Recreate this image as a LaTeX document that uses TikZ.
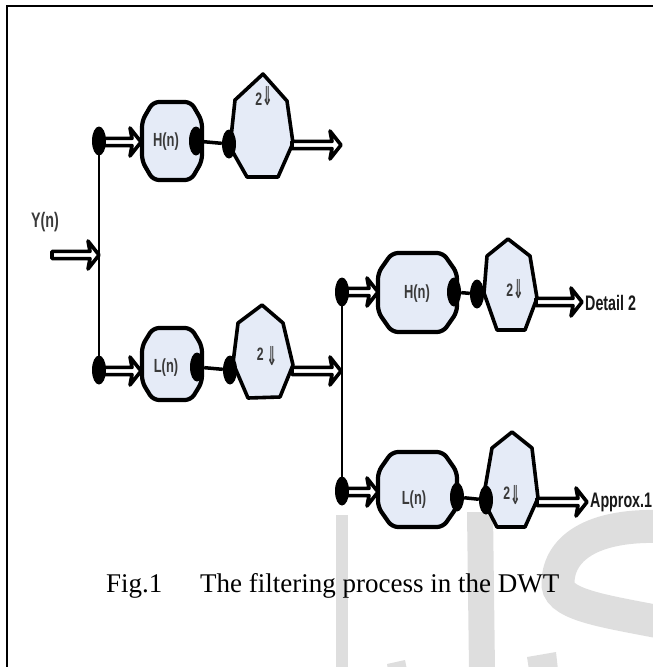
\documentclass[tikz,border=0pt]{standalone}
\usepackage{graphicx}
\usepackage{fontspec}
\setmainfont{Liberation Serif}
\newfontfamily\labfont{Liberation Sans}
\newfontfamily\symfont{DejaVu Sans}
\usetikzlibrary{arrows.meta,shapes.geometric,calc}
\definecolor{boxfill}{RGB}{229,235,247}
\definecolor{wm}{RGB}{222,222,222}
\definecolor{labc}{RGB}{58,58,58}
\definecolor{outc}{RGB}{25,25,25}
\newcommand\nar[1]{\scalebox{0.68}[1]{#1}}
\newcommand\dn{\scalebox{0.7}[1.45]{\symfont\char"21D3}}
\newcommand\filtpath[6]{%
  \draw[filt] (#1+#5,#2) -- (#3-#5,#2) -- (#3,#2+#6) -- (#3,#4-#6) -- (#3-#5,#4) -- (#1+#5,#4) -- (#1,#4-#6) -- (#1,#2+#6) -- cycle;}
% hollow block arrow from #1 to #2 (horizontal, at the height of #2)
\newcommand\harrow[2]{%
  \draw[harr] let \p1=#1, \p2=#2 in
    (\x1,\y2+3.6pt) -- (\x2-9pt,\y2+3.6pt) -- (\x2-11pt,\y2+14pt) -- (\x2,\y2)
    -- (\x2-11pt,\y2-14pt) -- (\x2-9pt,\y2-3.6pt) -- (\x1,\y2-3.6pt) -- cycle;}
\pgfdeclarelayer{wmark}
\pgfdeclarelayer{shapes}
\pgfdeclarelayer{conn}
\pgfsetlayers{wmark,shapes,conn,main}
\begin{document}
\begin{tikzpicture}[x=1pt,y=-1pt,
  dot/.style={ellipse, fill=black, minimum width=14pt, minimum height=29pt, inner sep=0pt},
  harr/.style={draw=black, fill=white, line width=3.6pt, line join=round},
  link/.style={line width=3.5pt},
  wire/.style={line width=2.6pt},
  filt/.style={draw, line width=4.2pt, fill=boxfill, rounded corners=6pt},
  hept/.style={draw, line width=3.6pt, fill=boxfill, line join=round},
  lbl/.style={font=\labfont\bfseries\fontsize{19}{19}\selectfont, text=labc, inner sep=0pt},
  dlbl/.style={font=\labfont\bfseries\fontsize{18}{18}\selectfont, text=labc, inner sep=0pt},
  olbl/.style={font=\labfont\bfseries\fontsize{21}{21}\selectfont, text=outc, inner sep=0pt, anchor=west},
  captext/.style={font=\fontsize{27}{27}\selectfont, anchor=base west, inner sep=0pt}
]
\useasboundingbox (0,0) rectangle (653,667);

% ---------- watermark ----------
\begin{pgfonlayer}{wmark}
\begin{scope}
\clip (0,0) rectangle (653,667);
\fill[wm] (336,515) rectangle (348,670);
\fill[wm] (467,512) -- (493,512) -- (495,670) -- (469,670) -- cycle;
\fill[wm] (387,664) -- (405,660) -- (407,670) -- (388,670) -- cycle;
\fill[wm] (527,657) -- (556,652) -- (558,670) -- (529,670) -- cycle;
\draw[wm, line width=33pt] (670,527) .. controls (590,522) and (557,550) .. (558,585) .. controls (560,606) and (610,612) .. (670,624);
\end{scope}
\end{pgfonlayer}

% ---------- frame ----------
\draw[line width=2.2pt] (7,667) -- (7,5.8) -- (653,5.8);

% ---------- dots (named nodes) ----------
\node[dot] (d1) at (99,141) {};
\node[dot] (d2) at (196,141) {};
\node[dot] (d3) at (229,144) {};
\node[dot] (d4) at (99,370) {};
\node[dot] (d5) at (197,367) {};
\node[dot] (d6) at (230,370) {};
\node[dot] (d7) at (342,292) {};
\node[dot] (d8) at (454,292) {};
\node[dot] (d9) at (477,294) {};
\node[dot] (d10) at (342,491) {};
\node[dot] (d11) at (457,497) {};
\node[dot] (d12) at (486,500) {};

% ---------- coordinates ----------
\coordinate (yin) at (52,255);
\coordinate (yj) at (99,255);
\coordinate (hAin) at (141,142);
\coordinate (sAout) at (292,145);
\coordinate (oA) at (341,145);
\coordinate (lAin) at (141,371);
\coordinate (sBout) at (292,371);
\coordinate (oB) at (341,371);
\coordinate (hBin) at (378,292);
\coordinate (sCout) at (536,302);
\coordinate (oC) at (582,302);
\coordinate (lBin) at (378,492);
\coordinate (sDout) at (537,502);
\coordinate (oD) at (587,502);

% ---------- shapes ----------
\begin{pgfonlayer}{shapes}
\filtpath{142}{102}{202}{180}{11}{19}
\filtpath{142}{328}{202}{400}{11}{18}
\filtpath{378}{253}{457}{332}{14}{20}
\filtpath{378}{452}{457}{527}{14}{20}
\draw[hept] (263,74) -- (287,101) -- (293,143) -- (278,177) -- (247,177) -- (230,147) -- (235,100) -- cycle;
\draw[hept] (262,305) -- (283,323) -- (293,365) -- (280,397) -- (248,398) -- (233,363) -- (238,323) -- cycle;
\draw[hept] (508,239) -- (530,256) -- (537,298) -- (525,330) -- (497,330) -- (484,293) -- (487,256) -- cycle;
\draw[hept] (512,432) -- (532,448) -- (538,498) -- (525,527) -- (497,527) -- (483,500) -- (492,448) -- cycle;
\end{pgfonlayer}

% ---------- connectors ----------
\begin{pgfonlayer}{conn}
\draw[wire] (d1.center) -- (d4.center);
\draw[wire] (d7.center) -- (d10.center);
\harrow{(yin)}{(yj)}
\harrow{(d1.center)}{(hAin)}
\harrow{(d4.center)}{(lAin)}
\harrow{(sAout)}{(oA)}
\harrow{(sBout)}{(oB)}
\harrow{(d7.center)}{(hBin)}
\harrow{(d10.center)}{(lBin)}
\harrow{(sCout)}{(oC)}
\harrow{(sDout)}{(oD)}
\draw[link] (d2) -- (d3);
\draw[link] (d5) -- (d6);
\draw[link] (d8) -- (d9);
\draw[link] (d11) -- (d12);
\end{pgfonlayer}

% ---------- labels ----------
\node[lbl, font=\labfont\bfseries\fontsize{21}{21}\selectfont] (yn) at (45,222) {\nar{Y(n)}};
\node[lbl] (hA) at (166,142) {\nar{H(n)}};
\node[lbl] (lA) at (166,368) {\nar{L(n)}};
\node[lbl] (hB) at (417,294) {\nar{H(n)}};
\node[lbl] (lB) at (414,500) {\nar{L(n)}};
\node[dlbl] (sA) at (264,96) {\nar{2}\dn};
\node[dlbl] (sB) at (267,356) {\raisebox{5pt}{\nar{2}}\,\dn};
\node[dlbl] (sC) at (515,289) {\raisebox{2pt}{\nar{2}}\dn};
\node[dlbl] (sD) at (512,495) {\raisebox{5pt}{\nar{2}}\dn};
\node[olbl] (det) at (585,303) {\nar{Detail 2}};
\node[olbl] (app) at (590,502) {\nar{Approx.1}};

% ---------- caption ----------
\node[captext] (fig) at (106,592) {Fig.1};
\node[captext] (capt) at (200,592) {The filtering process in the DWT};
\end{tikzpicture}
\end{document}
